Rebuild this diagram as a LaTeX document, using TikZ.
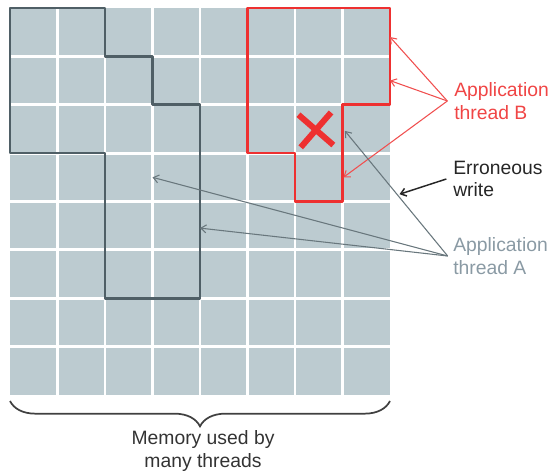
\documentclass[tikz,border=0pt]{standalone}
\usepackage{fontspec}
\setmainfont{Liberation Sans}
\usetikzlibrary{arrows.meta,decorations.pathreplacing,shapes.misc}
\definecolor{cellfill}{HTML}{BCCBD0}
\definecolor{threadA}{HTML}{4F5F66}
\definecolor{threadAtext}{HTML}{8A9AA4}
\definecolor{threadB}{HTML}{EE3030}
\tikzstyle{note} = [anchor=west, align=left, inner sep=0pt, font=\fontsize{14.5}{17}\selectfont]
\tikzstyle{lineA} = [draw, threadA!85, line width=0.8pt, -{Straight Barb[length=4pt,width=6pt]}]
\tikzstyle{lineB} = [draw, threadB!85, line width=0.8pt, -{Straight Barb[length=4pt,width=6pt]}]
\tikzstyle{lineW} = [draw, black!85, line width=1.1pt, -{Straight Barb[length=4pt,width=6pt]}]

\begin{document}
\begin{tikzpicture}[x=0.75pt, y=-0.75pt]
    \useasboundingbox (0,0) rectangle (553,474);

    % memory cells, 8 x 8
    \begin{scope}[shift={(10,8)}, x=35.625pt, y=-36.28pt]
    \fill [cellfill] (0,0) rectangle (8,8);
    \foreach \i in {1,...,7} {
        \draw [white, line width=2.2pt] (\i,0) -- (\i,8);
        \draw [white, line width=2.2pt] (0,\i) -- (8,\i);
    }
    % thread regions
    \draw [threadA, line width=1.9pt, line join=round] (0,0) -- (2,0) -- (2,1) -- (3,1) -- (3,2) -- (4,2) -- (4,6) -- (2,6) -- (2,3) -- (0,3) -- cycle;
    \draw [threadB, line width=1.9pt, line join=round] (5,0) -- (8,0) -- (8,2) -- (7,2) -- (7,4) -- (6,4) -- (6,3) -- (5,3) -- cycle;
    \node [cross out, draw=threadB, line width=4.5pt, minimum size=20pt, rotate=4] (cross) at (6.44,2.52) {};

    % arrow targets
    \coordinate (tB1) at (8,0.6);
    \coordinate (tB2) at (8,1.5);
    \coordinate (tB3) at (7.02,3.5);
    \coordinate (tA1) at (7.05,2.54);
    \coordinate (tA2) at (3,3.5);
    \coordinate (tA3) at (4,4.55);
    \coordinate (tW) at (8.2,3.85);
    \end{scope}

    % Place nodes
    \node [note, text=threadB!90] (appB) at (454,101) {Application\\thread B};
    \node [note, text=black!85] (wrong) at (453,179) {Erroneous\\write};
    \node [note, text=threadAtext] (appA) at (453,256) {Application\\thread A};
    \node [align=center, inner sep=0pt, font=\fontsize{14.5}{17}\selectfont, text=black!80] (mem) at (203,451) {Memory used by\\many threads};

    % brace under the cells
    \draw [black!75, line width=1.3pt, decorate, decoration={brace, mirror, amplitude=19pt}] (10,401) -- (390,401);

    % Draw edges
    \path [lineB] ([xshift=-5pt]appB.west) -- (tB1);
    \path [lineB] ([xshift=-5pt]appB.west) -- (tB2);
    \path [lineB] ([xshift=-5pt]appB.west) -- (tB3);
    \path [lineA] ([xshift=-4pt]appA.west) -- (tA1);
    \path [lineA] ([xshift=-4pt]appA.west) -- (tA2);
    \path [lineA] ([xshift=-4pt]appA.west) -- (tA3);
    \path [lineW] ([xshift=-5pt]wrong.west) -- (tW);
\end{tikzpicture}
\end{document}
